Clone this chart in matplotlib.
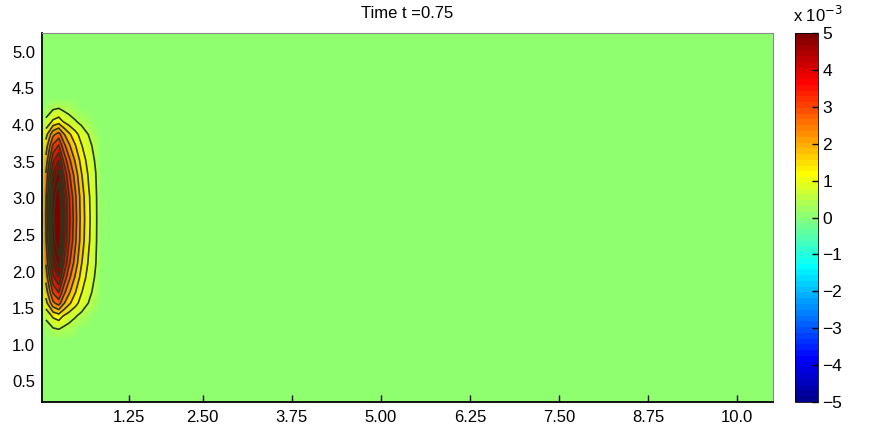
import numpy as np
import matplotlib
matplotlib.use("Agg")
import matplotlib.pyplot as plt
from matplotlib.colors import ListedColormap

plt.rcParams['font.family'] = ['Liberation Sans', 'DejaVu Sans']

# profile across x through the blob centre (values in units of 1e-3)
x_nodes = [0.245, 0.30, 0.40, 0.48, 0.55, 0.62, 0.71, 0.80, 0.90, 1.00, 1.08, 10.5]
x_vals = [0.0, 3.0, 5.4, 6.2, 4.7, 3.7, 2.7, 1.8, 1.1, 0.6, 0.0, 0.0]

# relative shape of the blob along y
y_nodes = [0.22, 1.07, 1.22, 1.39, 1.57, 1.72, 1.92, 2.12, 2.42, 2.72,
           3.02, 3.32, 3.52, 3.72, 3.87, 4.05, 4.22, 4.37, 5.255]
y_shape = [0.0, 0.0, 0.085, 0.2, 0.44, 0.57, 0.72, 0.85, 0.97, 1.0,
           0.97, 0.85, 0.72, 0.57, 0.44, 0.2, 0.085, 0.0, 0.0]

cbar_ticks = [-5, -4, -3, -2, -1, 0, 1, 2, 3, 4, 5]
x_tick_pos = [1.47, 2.5, 3.75, 5.0, 6.25, 7.5, 8.75, 10.0]
x_tick_lab = ["1.25", "2.50", "3.75", "5.00", "6.25", "7.50", "8.75", "10.0"]
y_ticks = [0.5, 1.0, 1.5, 2.0, 2.5, 3.0, 3.5, 4.0, 4.5, 5.0]
title = "Time t =0.75"


def matlab_jet(m=64):
    n = int(np.ceil(m / 4))
    u = np.concatenate([np.arange(1, n + 1) / n, np.ones(n - 1), np.arange(n, 0, -1) / n])
    g = int(np.ceil(n / 2)) - (m % 4 == 1) + np.arange(1, len(u) + 1)
    r, b = g + n, g - n
    rgb = np.zeros((m, 3))
    for ch, idx in enumerate((r, g, b)):
        ok = (idx >= 1) & (idx <= m)
        rgb[idx[ok] - 1, ch] = u[ok]
    return ListedColormap(rgb)


X, Y = np.meshgrid(x_nodes, y_nodes)
Z = np.outer(y_shape, x_vals)

fig = plt.figure(figsize=(8.75, 4.32), dpi=100)
ax = fig.add_axes([0.048, 0.0694, 0.835, 0.8542])
cax = fig.add_axes([0.9086, 0.0694, 0.0263, 0.8542])

mesh = ax.pcolormesh(X, Y, Z, shading="gouraud", cmap=matlab_jet(), vmin=-5, vmax=5)
# contour lines only on the interior nodes (not on the boundary column)
levels = np.arange(0.5, 6.0, 0.5)
ax.contour(X[:, 1:], Y[:, 1:], Z[:, 1:], levels=levels,
           colors="#2b361a", linewidths=1.2)

ax.set_xlim(0.245, 10.5)
ax.set_ylim(0.22, 5.255)
ax.set_xticks(x_tick_pos)
ax.set_xticklabels(x_tick_lab)
ax.set_yticks(y_ticks)
ax.set_yticklabels([f"{v:.1f}" for v in y_ticks])
ax.tick_params(axis="x", direction="in", length=5, width=1, labelsize=12, pad=5.5)
ax.tick_params(axis="y", length=0, labelsize=12, pad=5)
for s in ("top", "right"):
    ax.spines[s].set_color("#8a8a8a")
for s in ("left", "bottom"):
    ax.spines[s].set_linewidth(1.3)
ax.set_title(title, fontsize=12, pad=11)

cb = fig.colorbar(mesh, cax=cax, ticks=cbar_ticks)
cb.outline.set_linewidth(0.6)
cax.tick_params(direction="in", length=4, width=1, labelsize=12.5, pad=3)
fig.text(0.906, 0.948, r"x 10$^{-3}$", fontsize=12)

fig.savefig("out.png", dpi=100)
